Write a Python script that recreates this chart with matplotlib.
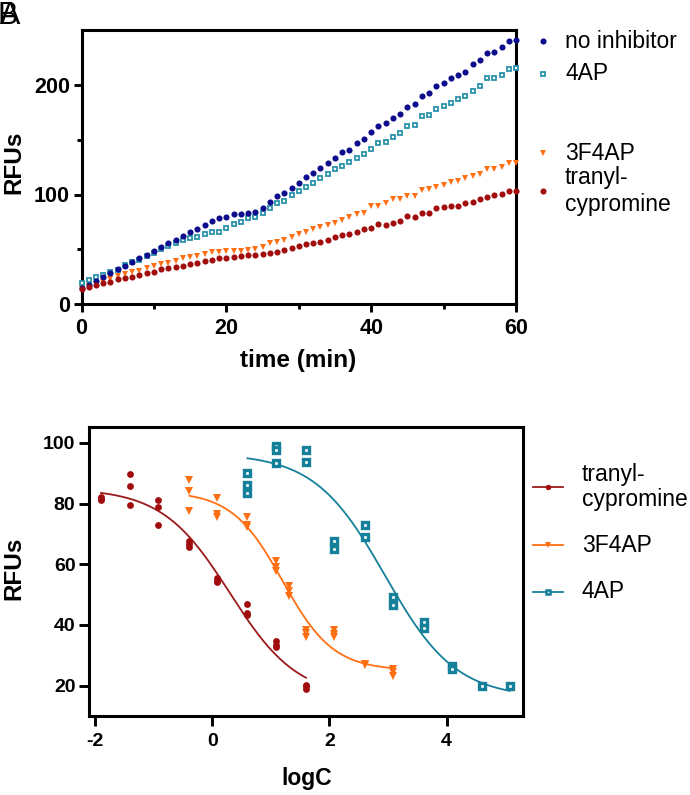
import numpy as np
import matplotlib
matplotlib.use("Agg")
import matplotlib.pyplot as plt
from matplotlib.lines import Line2D

plt.rcParams['font.family'] = ['Liberation Sans', 'DejaVu Sans']
plt.rcParams['axes.unicode_minus'] = False

# ---------------- data: panel A (kinetics) ----------------
time_min = list(range(61))

no_inhibitor = [14.4, 17.4, 21.1, 24.4, 28.1, 31.7, 34.8, 38.1, 41.8, 44.8,
                48.7, 52.4, 55.5, 58.5, 62.4, 66.1, 68.5, 72.4, 75.8, 78.3,
                79.7, 81.9, 81.9, 83.4, 84.3, 88.0, 93.4, 98.6, 101.0, 106.2,
                110.2, 115.7, 119.9, 123.9, 128.5, 133.0, 139.1, 140.6, 146.7, 150.4,
                156.8, 162.5, 165.0, 169.5, 173.2, 180.1, 182.6, 189.9, 192.9, 199.3,
                201.5, 206.0, 209.0, 212.0, 219.0, 222.7, 229.4, 230.3, 234.9, 240.3,
                241.0]
ap4_kin = [19.0, 22.0, 24.5, 26.6, 29.6, 31.1, 35.7, 38.7, 40.2, 43.9,
           46.9, 50.5, 53.0, 55.5, 58.5, 60.0, 61.5, 63.7, 66.1, 66.1,
           69.2, 72.8, 75.2, 78.3, 79.2, 82.8, 87.4, 92.0, 94.0, 99.5,
           103.5, 107.1, 110.2, 114.8, 118.7, 123.0, 126.0, 129.9, 133.0, 137.0,
           141.2, 146.7, 148.2, 152.7, 156.4, 162.5, 163.4, 171.6, 172.5, 178.0,
           180.7, 183.8, 186.9, 189.9, 194.7, 199.0, 206.0, 206.0, 209.0, 214.2,
           215.1]
f3ap4_kin = [14.0, 16.5, 18.5, 20.5, 22.6, 25.6, 27.5, 29.3, 30.5, 32.7,
             34.8, 36.6, 37.8, 39.6, 41.8, 43.2, 44.2, 45.7, 47.5, 47.5,
             48.4, 48.4, 48.4, 49.4, 50.0, 51.8, 55.5, 56.9, 58.5, 61.5,
             64.0, 66.1, 68.2, 70.6, 72.2, 74.3, 76.7, 79.7, 82.2, 83.4,
             89.5, 89.5, 92.0, 95.6, 95.6, 98.6, 98.6, 104.1, 104.7, 107.1,
             108.7, 111.7, 112.6, 114.8, 116.9, 118.7, 123.0, 123.0, 125.4, 128.5,
             129.0]
tranyl_kin = [13.8, 15.3, 17.4, 19.0, 20.4, 22.6, 23.5, 25.0, 26.6, 28.1,
              29.6, 31.7, 32.7, 34.1, 34.8, 36.6, 37.8, 39.3, 40.2, 41.8,
              42.3, 43.2, 43.9, 44.8, 44.8, 45.4, 46.9, 47.8, 49.5, 50.9,
              53.0, 54.8, 56.0, 56.9, 58.5, 61.5, 63.0, 64.0, 66.1, 68.2,
              69.2, 73.1, 72.2, 74.3, 76.1, 80.4, 79.2, 83.4, 83.4, 87.4,
              88.3, 89.5, 89.5, 92.0, 93.4, 95.6, 98.0, 99.5, 100.5, 103.5,
              103.5]

# ---------------- data: panel B (dose response) ----------------
tranyl_logc = [-1.9, -1.4, -0.92, -0.39, 0.085, 0.6, 1.09, 1.6]
tranyl_rfu = [[82.3, 81.6, 81.0], [89.6, 85.8, 79.5], [81.2, 78.8, 72.9],
              [67.5, 66.7, 65.8], [55.4, 54.6, 54.0], [47.0, 43.8, 43.3],
              [34.8, 33.5, 32.6], [20.3, 19.8, 18.9]]
f3ap4_logc = [-0.39, 0.085, 0.6, 1.09, 1.31, 1.6, 2.08, 2.6, 3.08]
f3ap4_rfu = [[87.7, 84.2, 77.6], [81.9, 76.5, 75.7], [75.5, 72.9, 72.2],
             [60.9, 59.2, 57.9], [52.8, 51.2, 49.6], [38.4, 37.3, 36.0],
             [38.4, 37.1, 36.0], [27.2, 26.8], [25.5, 24.4, 23.3]]
ap4_logc = [0.6, 1.09, 1.6, 2.08, 2.6, 3.08, 3.61, 4.1, 4.61, 5.08]
ap4_rfu = [[90.1, 86.1, 83.3], [98.9, 97.6, 93.2], [97.6, 93.8], [67.5, 65.1],
           [72.9, 68.9], [49.2, 46.6], [41.1, 39.0], [26.6, 25.5], [19.8], [19.8]]

# 4-parameter logistic fit parameters (top, bottom, logIC50, hill)
tranyl_fit = (85.0, 16.0, 0.30, 0.75)
f3ap4_fit = (84.0, 25.0, 1.20, 1.00)
ap4_fit = (96.5, 16.0, 2.95, 0.72)

# ---------------- colours ----------------
C_NAVY = '#0c0c8c'
C_TEAL_A = '#2a93aa'
C_ORANGE = '#ff6f14'
C_RED = '#a10c0c'
C_RED_LINE = '#9c1a1a'
C_TEAL_B = '#15809a'

W, H = 690, 795
fig = plt.figure(figsize=(W / 100, H / 100), dpi=100)


def fx(px):
    return px / W


def fy(py):
    return 1 - py / H


def style_axes(ax, lw=2.2):
    for s in ax.spines.values():
        s.set_linewidth(lw)
        s.set_capstyle('projecting')
        s.set_color('black')


MK_NAVY = dict(marker='o', ms=4.4, mfc=C_NAVY, mec=C_NAVY, mew=0)
MK_TEAL = dict(marker='s', ms=3.5, mfc='white', mec=C_TEAL_A, mew=1.3)
MK_ORNG = dict(marker='v', ms=4.9, mfc=C_ORANGE, mec=C_ORANGE, mew=0)
MK_RED = dict(marker='o', ms=4.4, mfc=C_RED, mec=C_RED, mew=0)

# ================= Panel A =================
ax1 = fig.add_axes([fx(81.5), fy(304.1), 434.5 / W, 274 / H])
ax1.plot(time_min, ap4_kin, ls='none', clip_on=False, zorder=3, **MK_TEAL)
ax1.plot(time_min, no_inhibitor, ls='none', clip_on=False, zorder=4, **MK_NAVY)
ax1.plot(time_min, f3ap4_kin, ls='none', clip_on=False, zorder=3, **MK_ORNG)
ax1.plot(time_min, tranyl_kin, ls='none', clip_on=False, zorder=4, **MK_RED)
ax1.set_xlim(0, 60)
ax1.set_ylim(0, 250)
ax1.set_xticks([0, 20, 40, 60])
ax1.set_xticks([10, 30, 50], minor=True)
ax1.set_yticks([0, 100, 200])
ax1.set_yticks([50, 150], minor=True)
ax1.tick_params(which='major', length=5.8, width=2.1, labelsize=15.5, pad=2.5)
ax1.tick_params(which='minor', length=3.5, width=2.1)
ax1.tick_params(axis='x', which='major', pad=4)
for lab in ax1.get_xticklabels() + ax1.get_yticklabels():
    lab.set_fontweight('bold')
style_axes(ax1)

fig.text(fx(14), fy(162), 'RFUs', rotation=90, ha='center', va='center',
         fontsize=17.5, fontweight='bold')
fig.text(fx(298.5), fy(361), 'time (min)', ha='center', va='center',
         fontsize=17.5, fontweight='bold')

# Panel A legend (markers only)
legA = [
    (41, 'no inhibitor', MK_NAVY),
    (74, '4AP', MK_TEAL),
    (153, '3F4AP', MK_ORNG),
    (191, 'tranyl-\ncypromine', MK_RED),
]
for ypx, lab, mk in legA:
    fig.add_artist(Line2D([fx(543)], [fy(ypx)], transform=fig.transFigure,
                          ls='none', **mk))
    fig.text(fx(565), fy(ypx), lab, ha='left', va='center', fontsize=16.5,
             linespacing=1.2)

# ================= Panel B =================
ax2 = fig.add_axes([fx(89.3), fy(716), 434 / W, 289.3 / H])


def logistic(xs, p):
    top, bottom, lic50, hill = p
    return bottom + (top - bottom) / (1 + 10 ** ((xs - lic50) * hill))


series_B = [
    (tranyl_logc, tranyl_rfu, tranyl_fit, C_RED_LINE,
     dict(marker='o', ms=4.9, mfc=C_RED, mec=C_RED, mew=0)),
    (f3ap4_logc, f3ap4_rfu, f3ap4_fit, C_ORANGE,
     dict(marker='v', ms=5.6, mfc=C_ORANGE, mec=C_ORANGE, mew=0)),
    (ap4_logc, ap4_rfu, ap4_fit, C_TEAL_B,
     dict(marker='s', ms=4.2, mfc='white', mec=C_TEAL_B, mew=2.4)),
]
for logc, reps, fit, cline, mk in series_B:
    xs = np.linspace(min(logc), max(logc), 300)
    ax2.plot(xs, logistic(xs, fit), color=cline, lw=1.3, zorder=2)
    px = [x for x, r in zip(logc, reps) for _ in r]
    py = [v for r in reps for v in r]
    ax2.plot(px, py, ls='none', zorder=3, **mk)

ax2.set_xlim(-2.1, 5.31)
ax2.set_ylim(10, 105.3)
ax2.set_xticks([-2, 0, 2, 4])
ax2.set_yticks([20, 40, 60, 80, 100])
ax2.tick_params(which='major', length=7, width=2.1, labelsize=14, pad=3)
ax2.tick_params(axis='x', pad=5)
for lab in ax2.get_xticklabels() + ax2.get_yticklabels():
    lab.set_fontweight('bold')
style_axes(ax2)

fig.text(fx(14), fy(568), 'RFUs', rotation=90, ha='center', va='center',
         fontsize=17.5, fontweight='bold')
fig.text(fx(306.5), fy(779), 'logC', ha='center', va='center',
         fontsize=16.5, fontweight='bold')

legB = [
    (487, 'tranyl-\ncypromine', C_RED_LINE, dict(marker='o', ms=3.9, mfc=C_RED, mec=C_RED, mew=0)),
    (545, '3F4AP', C_ORANGE, dict(marker='v', ms=4.2, mfc=C_ORANGE, mec=C_ORANGE, mew=0)),
    (592, '4AP', C_TEAL_B, dict(marker='s', ms=3.2, mfc='white', mec=C_TEAL_B, mew=1.8)),
]
for ypx, lab, cl, mk in legB:
    fig.add_artist(Line2D([fx(533), fx(563)], [fy(ypx), fy(ypx)],
                          transform=fig.transFigure, color=cl, lw=1.3))
    fig.add_artist(Line2D([fx(548)], [fy(ypx)], transform=fig.transFigure,
                          ls='none', **mk))
    fig.text(fx(582), fy(ypx), lab, ha='left', va='center', fontsize=16.5,
             linespacing=1.1)

# overlapping panel letters (as in the reference)
fig.text(fx(-3), fy(1), 'B', ha='left', va='top', fontsize=22)
fig.text(fx(0), fy(1), 'A', ha='left', va='top', fontsize=22)

fig.savefig('out.png', dpi=100)
